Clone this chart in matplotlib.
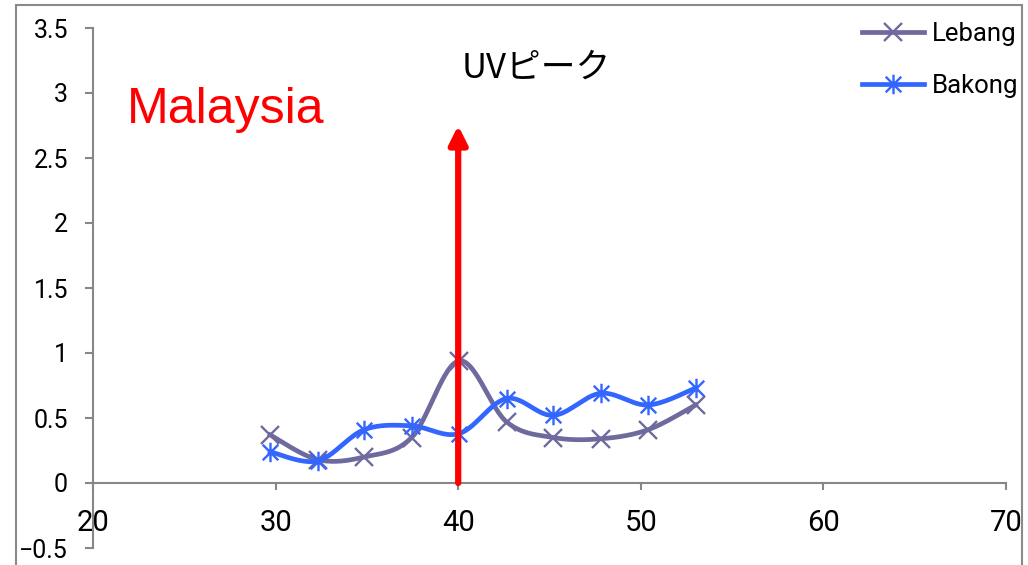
import numpy as np
import matplotlib
matplotlib.use("Agg")
import matplotlib.pyplot as plt
from matplotlib.path import Path
from matplotlib.patches import Rectangle

# Sample positions and measured values
x_vals = [29.7, 32.3, 34.85, 37.45, 40.05, 42.65, 45.2, 47.8, 50.4, 53.0]
lebang = [0.37, 0.18, 0.20, 0.35, 0.94, 0.47, 0.35, 0.34, 0.41, 0.60]
bakong = [0.24, 0.17, 0.41, 0.44, 0.38, 0.65, 0.52, 0.69, 0.60, 0.73]
series_names = ["Lebang", "Bakong"]

x_ticks = [20, 30, 40, 50, 60, 70]
y_ticks = [-0.5, 0, 0.5, 1, 1.5, 2, 2.5, 3, 3.5]
y_tick_labels = ["\u22120.5", "0", "0.5", "1", "1.5", "2", "2.5", "3", "3.5"]

peak_x = 40
peak_top = 2.75
peak_label = "UVピーク"
region_label = "Malaysia"

LEBANG_C = "#6E6A9E"
BAKONG_C = "#3366FF"
GRID_C = "#878787"

NUM_FONT = ["Liberation Sans Narrow", "Roboto", "DejaVu Sans"]


def smooth(xs, ys, n=30):
    """Bezier smoothing through every point; returns curve and point indices."""
    xs = np.asarray(xs, float)
    ys = np.asarray(ys, float)
    P = np.column_stack([xs, ys])
    m = len(P)
    out = [P[0]]
    idx = [0]
    t = np.linspace(0, 1, n + 1)[1:]
    for i in range(m - 1):
        p0 = P[i - 1] if i > 0 else P[i]
        p1 = P[i]
        p2 = P[i + 1]
        p3 = P[i + 2] if i + 2 < m else P[i + 1]
        c1 = p1 + (p2 - p0) / 6.0
        c2 = p2 - (p3 - p1) / 6.0
        seg = ((1 - t) ** 3)[:, None] * p1 + (3 * (1 - t) ** 2 * t)[:, None] * c1 \
            + (3 * (1 - t) * t ** 2)[:, None] * c2 + (t ** 3)[:, None] * p2
        out.extend(seg)
        idx.append(len(out) - 1)
    out = np.array(out)
    return out[:, 0], out[:, 1], idx


# Asterisk marker: an x with a vertical stroke
star = Path([(-1, -1), (1, 1), (-1, 1), (1, -1), (0, -1.25), (0, 1.25)],
            [Path.MOVETO, Path.LINETO, Path.MOVETO, Path.LINETO, Path.MOVETO, Path.LINETO])

fig = plt.figure(figsize=(10.28, 5.65), dpi=100)
ax = fig.add_axes([93 / 1028, 1 - 548 / 565, (1006 - 93) / 1028, (548 - 28) / 565])

sx, sy, si = smooth(x_vals, lebang)
ax.plot(sx, sy, color=LEBANG_C, lw=3.4, marker="x", markevery=si, markersize=13.5,
        markeredgewidth=1.7, label=series_names[0], zorder=3)
bx, by, bi = smooth(x_vals, bakong)
ax.plot(bx, by, color=BAKONG_C, lw=3.4, marker=star, markevery=bi, markersize=14,
        markeredgewidth=1.7, markerfacecolor="none", label=series_names[1], zorder=4)

# Peak arrow
ax.annotate("", xy=(peak_x, peak_top), xytext=(peak_x, 0),
            arrowprops=dict(arrowstyle="-|>,head_length=0.9,head_width=0.45",
                            color="#FF0000", lw=4.5, shrinkA=0, shrinkB=0,
                            mutation_scale=12), zorder=5)

ax.text(peak_x + 0.2, 3.115, peak_label, fontsize=25, family=["Noto Sans CJK JP", "DejaVu Sans"],
        ha="left", va="baseline", color="black")
ax.text(21.86, 2.77, region_label, fontsize=36, family=["Liberation Sans", "DejaVu Sans"],
        ha="left", va="baseline", color="#FF0000")

ax.set_xlim(20, 70)
ax.set_ylim(-0.5, 3.5)
ax.spines["top"].set_visible(False)
ax.spines["right"].set_visible(False)
ax.spines["bottom"].set_position(("data", 0))
for s in ("left", "bottom"):
    ax.spines[s].set_color(GRID_C)
    ax.spines[s].set_linewidth(1.5)

ax.set_xticks(x_ticks)
ax.set_xticklabels([str(v) for v in x_ticks], family=NUM_FONT, fontsize=21)
ax.set_yticks(y_ticks)
ax.set_yticklabels(y_tick_labels, family=NUM_FONT, fontsize=18)
ax.tick_params(axis="x", direction="out", length=5, width=1.5, color=GRID_C, pad=14)
ax.tick_params(axis="y", direction="out", length=6, width=1.5, color=GRID_C, pad=12)

leg = ax.legend(loc="upper left", bbox_to_anchor=(862 / 1028, 1 - 22 / 565),
                bbox_transform=fig.transFigure, frameon=False,
                prop={"family": ["Roboto", "DejaVu Sans"], "size": 18.5},
                handlelength=2.4, handletextpad=0.3, labelspacing=1.08, borderpad=0,
                borderaxespad=0)

# Outer frame around the chart area
fig.patches.append(Rectangle((16 / 1028, -0.05), (1022 - 16) / 1028, 1.05 - 5 / 565,
                             transform=fig.transFigure, fill=False,
                             edgecolor="#8A8A8A", lw=1.5, zorder=0))

fig.savefig("out.png", dpi=100)
